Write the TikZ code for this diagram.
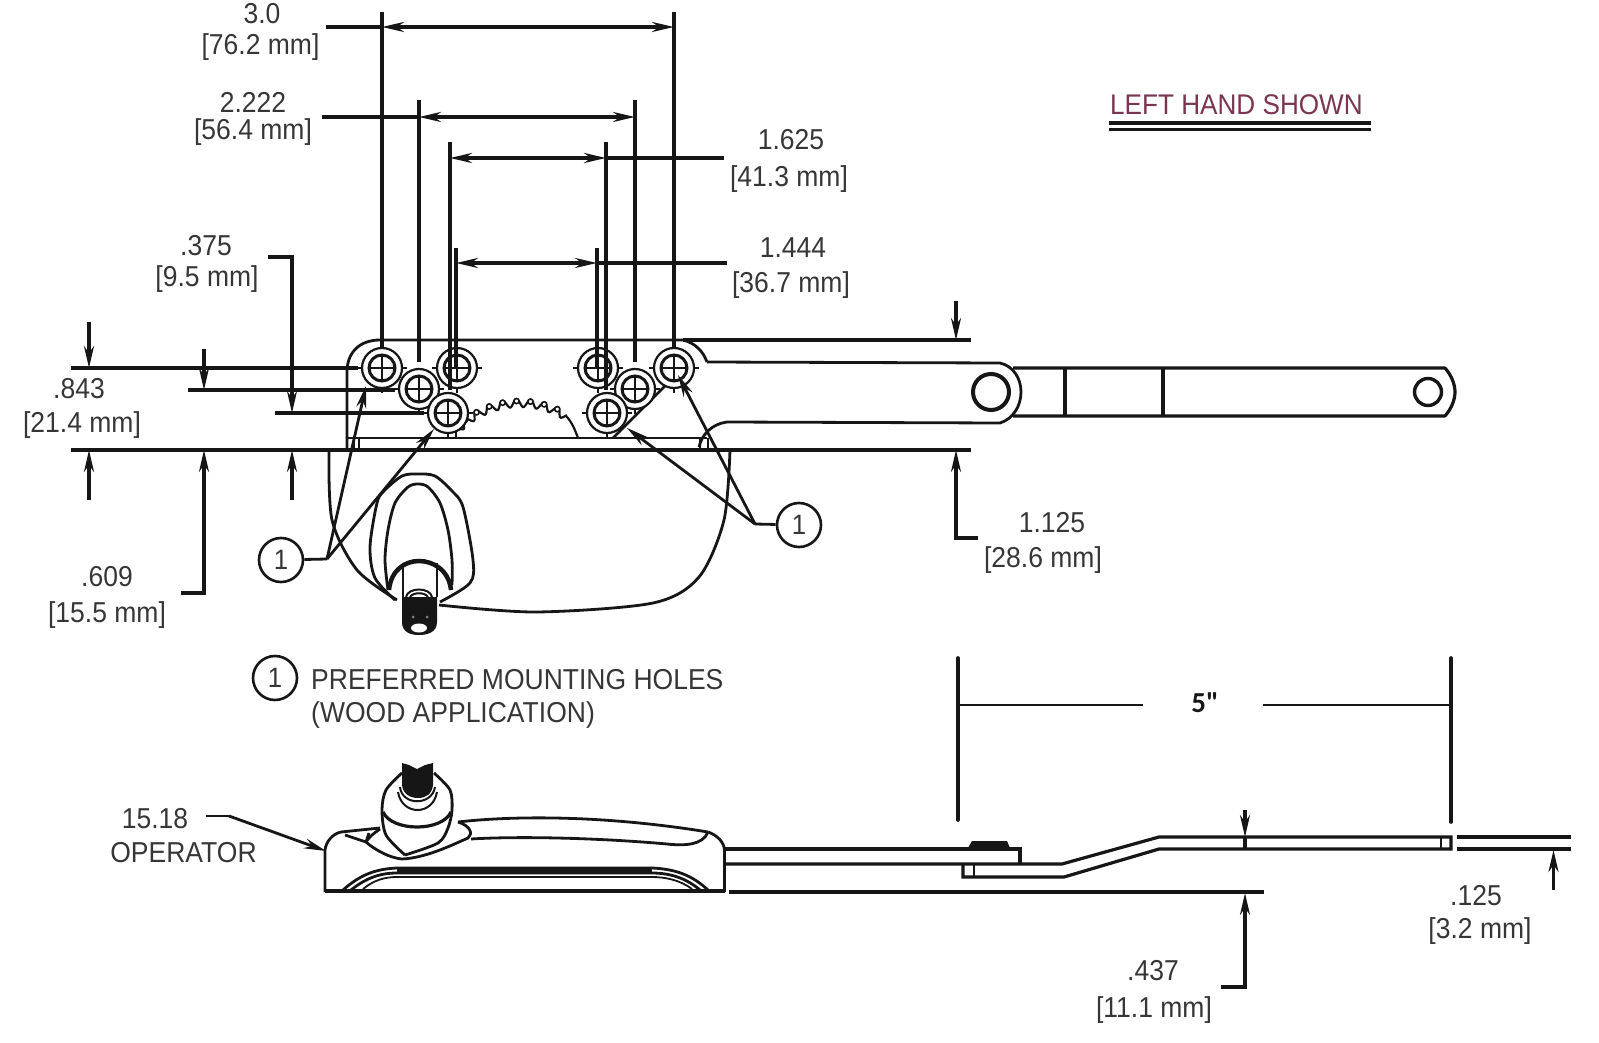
\documentclass[tikz,border=0pt]{standalone}
\usepackage{fontspec}
\setmainfont[FakeStretch=0.92]{Liberation Sans}
\newfontfamily\fivefont{Carlito}
\usetikzlibrary{arrows.meta}
\definecolor{inkblack}{HTML}{161616}
\definecolor{labelgray}{HTML}{363636}
\definecolor{noticered}{HTML}{7A3552}
\tikzset{
	dimline/.style={line width=3.2pt, inkblack},
	dimtip/.style={-{Stealth[length=22pt,width=10pt]}},
	dimboth/.style={{Stealth[length=22pt,width=10pt]}-{Stealth[length=22pt,width=10pt]}},
	partline/.style={line width=2.8pt, inkblack, line join=round},
	dimtext/.style={anchor=base, inner sep=0pt, text=labelgray, font=\fontsize{28.8}{30}\selectfont},
	callout/.style={circle, draw=inkblack, line width=2.6pt, minimum size=44pt, inner sep=0pt, text=labelgray, font=\fontsize{28}{30}\selectfont},
}
\begin{document}
\begin{tikzpicture}[x=1pt, y=-1pt]
	\useasboundingbox (0,0) rectangle (1599,1043);
	%
	%plate and arm
	\draw[partline] (347,450) -- (347,372) .. controls (347,352) and (360,340) .. (380,340) -- (683,340)
		.. controls (695,343) and (703,351) .. (707,362);
	\draw[partline] (707,362) -- (1000,363) .. controls (1013,366) and (1021,378) .. (1021,392)
		.. controls (1021,406) and (1013,419) .. (1000,423) -- (727,422) .. controls (712,424) and (702,434) .. (699,447);
	\draw[partline] (347,438) -- (707,438);
	\draw[line width=1.8pt, inkblack] (354,438) -- (354,450) (359,438) -- (359,450) (700,438) -- (700,450) (708,438) -- (708,450);
	\draw[line width=4pt, inkblack] (991,392) circle[radius=18];
	\draw[partline, line width=3.2pt] (1013,368) -- (1445,368) .. controls (1452,376) and (1455,385) .. (1455,392)
		.. controls (1455,399) and (1452,408) .. (1445,416) -- (1013,416);
	\draw[partline, line width=3.2pt] (1065,368) -- (1065,416);
	\draw[partline, line width=3.2pt] (1163,368) -- (1163,416);
	\draw[line width=3.4pt, inkblack] (1428,392) circle[radius=13.5];
	%gear
	\draw[line width=2.2pt, inkblack] plot[domain=136:58, samples=160, smooth]
		({520+(87+4*sin(40*\x))*cos(\x)},{490-(87+4*sin(40*\x))*sin(\x)});
	\foreach \toothangle in {128.25,119.25,110.25,101.25,92.25,83.25,74.25,65.25}
		\draw[line width=1.6pt, inkblack, fill=white] ({520+89*cos(\toothangle)},{490-89*sin(\toothangle)}) circle[radius=2.6];
	\draw[line width=2.2pt, inkblack] (566,416) .. controls (572,422) and (575,430) .. (578,438);
	\draw[line width=2pt, inkblack] (448,430) -- (448,438) (456,430) -- (456,438) (607,432) -- (607,438);
	\draw[partline] (613,438) -- (678,373);
	%
	%holes
	\foreach \hname/\hx/\hy in {holeA/382/368, holeB/419/389, holeC/457/368, holeD/448/413,
		holeE/598/368, holeF/635/389, holeG/607/413, holeH/674/368}
	{
		\coordinate (\hname) at (\hx,\hy);
		\draw[line width=2.2pt, inkblack, fill=white] (\hname) circle[radius=20];
		\draw[line width=3pt, inkblack] (\hname) circle[radius=13];
		\draw[line width=2.2pt, inkblack] (\hx-13,\hy) -- (\hx+13,\hy) (\hx,\hy-13) -- (\hx,\hy+13);
		\draw[line width=1.6pt, inkblack] (\hx-25,\hy) -- (\hx-19,\hy) (\hx+19,\hy) -- (\hx+25,\hy) (\hx,\hy+19) -- (\hx,\hy+25);
	}
	%
	%operator top view
	\draw[partline] plot[smooth] coordinates {(329,450) (332,520) (357,570) (397,600)};
	\draw[partline] plot[smooth] coordinates {(730,450) (724,520) (699,577) (653,603) (536,612) (439,605)};
	\draw[partline] plot[smooth] coordinates {(395,600) (375,578) (370,547) (377,503) (384,491) (402,476) (418,474) (435,476) (452,491) (463,507) (473,560) (470,583) (440,602)};
	\draw[partline] plot[smooth] coordinates {(388,590) (385,560) (388,530) (395,503) (408,487) (418,484) (428,487) (440,503) (448,530) (452,560) (452,585)};
	\draw[line width=4.5pt, inkblack] (389,590) .. controls (391,570) and (405,561) .. (419,561) .. controls (433,561) and (449,570) .. (451,590);
	\draw[line width=2pt, inkblack] (403,563) -- (403,597) (437,563) -- (437,597);
	\draw[line width=2pt, inkblack] (406,597) .. controls (408,587) and (430,587) .. (432,597);
	\draw[line width=2pt, inkblack] (410,597) .. controls (413,592) and (425,592) .. (428,597);
	\fill[inkblack] (402,597) -- (437,597) -- (437,622) .. controls (437,632) and (428,635) .. (419,635) .. controls (410,635) and (402,632) .. (402,622) -- cycle;
	\fill[white] (419,628) ellipse[x radius=8, y radius=4.5];
	\fill[gray] (413,617) circle[radius=1.5] (427,617) circle[radius=1.5];
	%
	%extension lines
	\draw[dimline] (382,348) -- (382,12);
	\draw[dimline] (419,362) -- (419,100);
	\draw[dimline] (450,390) -- (450,142);
	\draw[dimline] (456,368) -- (456,248);
	\draw[dimline] (597,368) -- (597,248);
	\draw[dimline] (606,390) -- (606,142);
	\draw[dimline] (635,362) -- (635,100);
	\draw[dimline] (674,348) -- (674,12);
	\draw[dimline] (71,368) -- (358,368);
	\draw[dimline] (188,390) -- (395,390);
	\draw[dimline] (275,413) -- (424,413);
	\draw[dimline] (71,450) -- (971,450);
	\draw[dimline] (683,340) -- (971,340);
	%
	%top dimensions
	\draw[dimline] (326,27) -- (382,27);
	\draw[dimline, dimboth] (382,27) -- (674,27);
	\draw[dimline] (322,117) -- (419,117);
	\draw[dimline, dimboth] (419,117) -- (635,117);
	\draw[dimline, dimboth] (450,158) -- (606,158);
	\draw[dimline] (606,158) -- (724,158);
	\draw[dimline, dimboth] (456,263) -- (597,263);
	\draw[dimline] (597,263) -- (727,263);
	%
	%side dimensions
	\draw[dimline, dimtip] (89,322) -- (89,368);
	\draw[dimline, dimtip] (89,500) -- (89,450);
	\draw[dimline, dimtip] (204,349) -- (204,390);
	\draw[dimline, dimtip] (181,593) -- (204,593) -- (204,450);
	\draw[dimline, dimtip] (268,257) -- (292,257) -- (292,413);
	\draw[dimline, dimtip] (292,500) -- (292,450);
	\draw[dimline, dimtip] (956,301) -- (956,340);
	\draw[dimline, dimtip] (978,538) -- (956,538) -- (956,450);
	%
	%callouts
	\node[callout] (calloutL) at (281,560) {1};
	\node[callout] (calloutR) at (799,525) {1};
	\coordinate (kneeL) at (327,559);
	\coordinate (kneeR) at (755,524);
	\coordinate (tipA) at (366,386);
	\coordinate (tipD) at (434,429);
	\coordinate (tipG) at (627,428);
	\coordinate (tipH) at (678,375);
	\draw[partline] (calloutL) -- (kneeL);
	\draw[partline, dimtip] (kneeL) -- (tipA);
	\draw[partline, dimtip] (kneeL) -- (tipD);
	\draw[partline] (calloutR) -- (kneeR);
	\draw[partline, dimtip] (kneeR) -- (tipG);
	\draw[partline, dimtip] (kneeR) -- (tipH);
	%
	%labels
	\node[dimtext] (threeA) at (262,24) {3.0};
	\node[dimtext] (threeB) at (260.5,55) {[76.2 mm]};
	\node[dimtext] (twoA) at (253,113) {2.222};
	\node[dimtext] (twoB) at (253,140) {[56.4 mm]};
	\node[dimtext] (oneA) at (791,150) {1.625};
	\node[dimtext] (oneB) at (789,187) {[41.3 mm]};
	\node[dimtext] (fourA) at (793,258) {1.444};
	\node[dimtext] (fourB) at (791,293) {[36.7 mm]};
	\node[dimtext] (quarterA) at (206,255) {.375};
	\node[dimtext] (quarterB) at (207,287) {[9.5 mm]};
	\node[dimtext] (eightA) at (79,398) {.843};
	\node[dimtext] (eightB) at (82,432) {[21.4 mm]};
	\node[dimtext] (sixA) at (107,586) {.609};
	\node[dimtext] (sixB) at (107,622) {[15.5 mm]};
	\node[dimtext] (elevenA) at (1052,532) {1.125};
	\node[dimtext] (elevenB) at (1043,567) {[28.6 mm]};
	\node[dimtext] (shaftA) at (1153,980) {.437};
	\node[dimtext] (shaftB) at (1154,1017) {[11.1 mm]};
	\node[dimtext] (thickA) at (1476,905) {.125};
	\node[dimtext] (thickB) at (1480,938) {[3.2 mm]};
	\node[dimtext, text=noticered, font=\fontsize{28.4}{30}\selectfont] (notice) at (1236.5,115) {LEFT HAND SHOWN};
	\draw[line width=3.2pt, inkblack] (1109,123) -- (1371,123);
	\draw[line width=3.2pt, inkblack] (1109,129.5) -- (1371,129.5);
	\node[callout] (calloutK) at (275,678) {1};
	\node[dimtext, anchor=base west] (keyA) at (311,689) {PREFERRED MOUNTING HOLES};
	\node[dimtext, anchor=base west] (keyB) at (311,722) {(WOOD APPLICATION)};
	\node[dimtext] (partA) at (155,828) {15.18};
	\node[dimtext] (partB) at (183.5,862) {OPERATOR};
	%
	%operator side view
	\draw[partline] (325,892) -- (325,850) .. controls (326,842) and (332,834) .. (341,832) -- (380,828);
	\draw[partline] (724.5,892) -- (724.5,850) .. controls (724,842) and (717,835) .. (708,832);
	\draw[line width=4.5pt, inkblack] (325,891) -- (725,891);
	\draw[partline] (458,822) .. controls (520,815) and (610,816) .. (708,832);
	\draw[partline] (471,839) .. controls (520,836) and (600,838) .. (667,844) .. controls (685,846) and (703,845) .. (708,832);
	\draw[partline] (345,835) -- (366,842) -- (369,833);
	\draw[partline] (380,829) .. controls (374,833) and (368,838) .. (366,842) .. controls (375,850) and (390,858) .. (402,859)
		.. controls (425,858) and (450,846) .. (468,838) .. controls (473,834) and (471,826) .. (458,822);
	\draw[partline] plot[smooth] coordinates {(402,773) (386,790) (382,810) (386,835) (405,855)};
	\draw[partline] plot[smooth] coordinates {(434,773) (450,790) (452,810) (448,828) (438,843) (405,855)};
	\draw[line width=3.2pt, inkblack] (383,812) .. controls (392,832) and (442,832) .. (451,812);
	\fill[inkblack] (402,763) -- (409,765) -- (417,769) -- (425,765) -- (433,763) -- (433,785) .. controls (432,794) and (426,798) .. (418,798) .. controls (410,798) and (403,794) .. (402,785) -- cycle;
	\draw[line width=2pt, inkblack] (400,787) .. controls (402,806) and (432,806) .. (435,787);
	\draw[line width=2pt, inkblack] (398,792) .. controls (402,816) and (433,816) .. (437,792);
	\draw[partline] (343,890) .. controls (360,875) and (375,869) .. (397,868) -- (652,868) .. controls (675,869) and (692,875) .. (708,890);
	\draw[partline] (351,890) .. controls (366,878) and (380,873) .. (397,873) -- (652,873) .. controls (670,873) and (686,878) .. (700,890);
	\draw[line width=5pt, inkblack] (397,870.5) -- (652,870.5);
	\draw[line width=1.8pt, inkblack] (363,889) .. controls (374,880) and (385,877) .. (397,877) -- (652,877) .. controls (665,877) and (680,880) .. (692,889);
	%
	%link and rod
	\draw[dimline] (725,849) -- (1020,849) -- (1020,863);
	\draw[dimline] (725,864) -- (1062,864) -- (1159,837) -- (1451,837) -- (1451,849) -- (1159,849) -- (1064,877) -- (963,877) -- (963,865);
	\draw[line width=2.2pt, inkblack] (974,865) -- (974,877) (1441,837) -- (1441,849);
	\fill[inkblack] (968,848) -- (972,841) -- (1007,841) -- (1010,848) -- cycle;
	\draw[dimline] (1457,837) -- (1571,837);
	\draw[dimline] (1457,849) -- (1571,849);
	\draw[dimline] (729,892) -- (1264,892);
	\draw[dimline, dimtip] (1245,810) -- (1245,837);
	\draw[dimline] (1245,837) -- (1245,849);
	\draw[dimline, dimtip] (1221,987) -- (1245,987) -- (1245,893);
	\draw[dimline, dimtip] (1553.5,890) -- (1553.5,850);
	\draw[partline] (206,816) -- (229,816);
	\draw[partline, dimtip] (229,816) -- (326,851);
	%
	%five inch span
	\draw[line width=3.6pt, inkblack, line cap=round] (958,658) -- (958,820);
	\draw[line width=3.6pt, inkblack, line cap=round] (1451,658) -- (1451,822);
	\draw[line width=2pt, inkblack] (958,705) -- (1143,705);
	\draw[line width=2pt, inkblack] (1263,705) -- (1451,705);
	\node[anchor=base, inner sep=0pt, text=inkblack, font=\fivefont\bfseries\fontsize{29}{30}\selectfont] (span) at (1205,712) {5"};
\end{tikzpicture}
\end{document}
